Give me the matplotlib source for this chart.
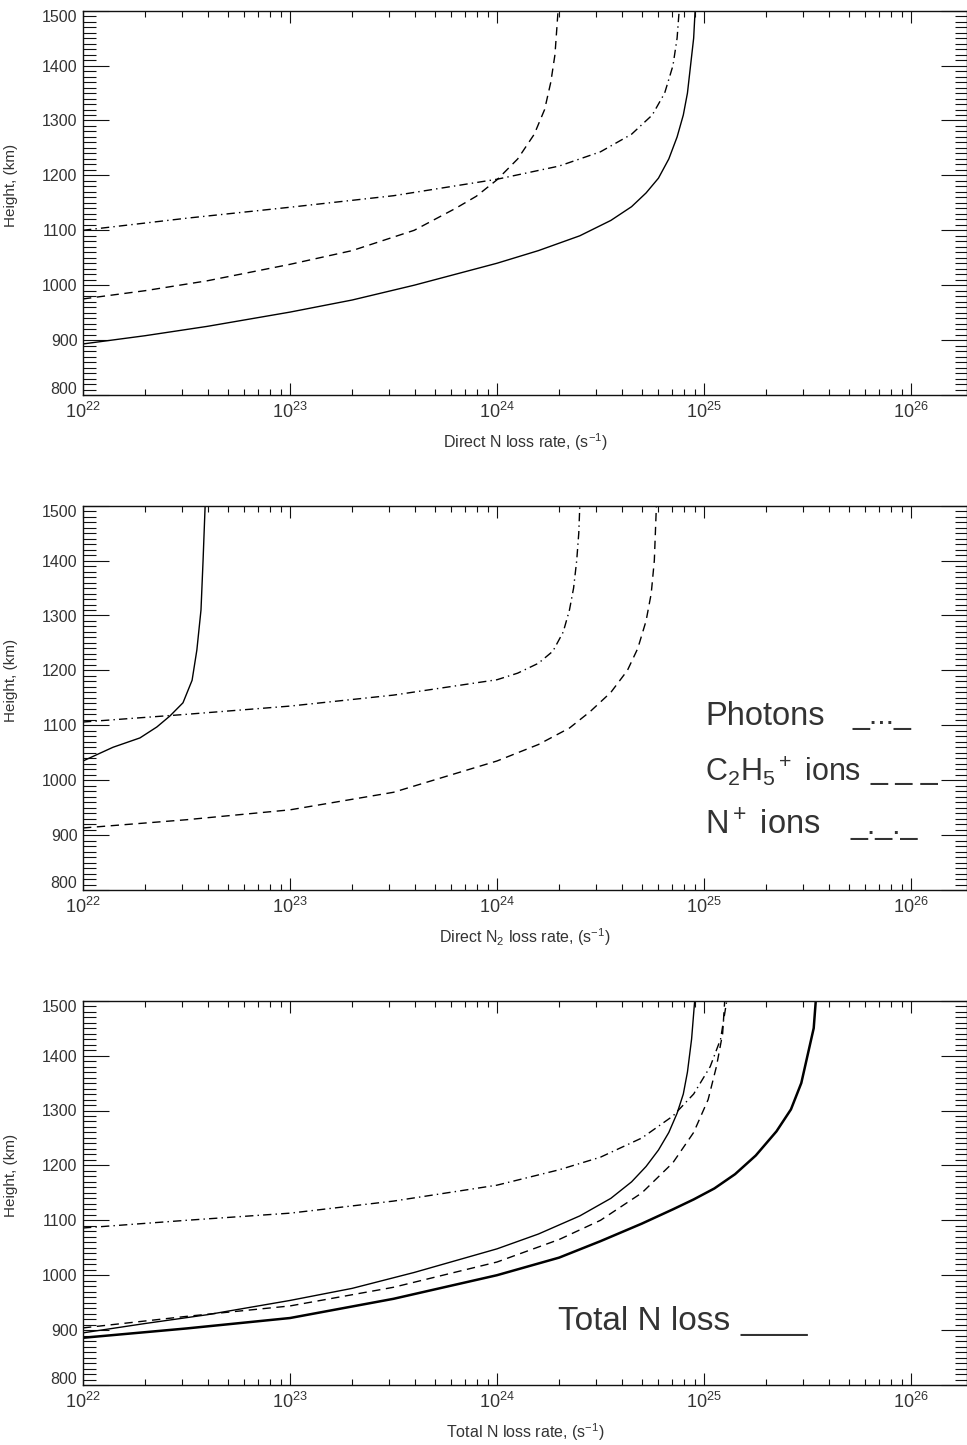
import matplotlib
matplotlib.use('Agg')
import matplotlib.pyplot as plt
import matplotlib.transforms as mtransforms
import numpy as np
from matplotlib.ticker import MultipleLocator, LogLocator, NullFormatter, FuncFormatter

plt.rcParams['font.family'] = ['Liberation Sans', 'DejaVu Sans']
plt.rcParams['mathtext.fontset'] = 'custom'
plt.rcParams['mathtext.rm'] = 'Liberation Sans'
plt.rcParams['mathtext.it'] = 'Liberation Sans:italic'
plt.rcParams['mathtext.bf'] = 'Liberation Sans:bold'

# ---------------- data (log10 of rate in s^-1, height in km) ----------------
# Panel 1: direct N loss
p1_solid_lograte = [22.0, 22.3, 22.6, 23.0, 23.3, 23.6, 24.0, 24.2, 24.4, 24.55, 24.65, 24.72, 24.78, 24.83, 24.87, 24.9, 24.92, 24.935, 24.95, 24.957]
p1_solid_height = [893, 908, 925, 951, 973, 1000, 1040, 1063, 1090, 1118, 1143, 1168, 1195, 1230, 1270, 1310, 1350, 1400, 1450, 1500]
p1_dashed_lograte = [22.0, 22.3, 22.6, 23.0, 23.3, 23.6, 23.8, 23.9, 24.0, 24.1, 24.18, 24.23, 24.26, 24.28, 24.295]
p1_dashed_height = [975, 990, 1008, 1038, 1063, 1100, 1140, 1162, 1192, 1230, 1275, 1320, 1370, 1420, 1500]
p1_dashdot_lograte = [22.0, 22.5, 23.0, 23.5, 24.0, 24.3, 24.5, 24.65, 24.75, 24.81, 24.85, 24.87, 24.88]
p1_dashdot_height = [1100, 1122, 1142, 1163, 1193, 1217, 1243, 1275, 1310, 1350, 1400, 1450, 1500]

# Panel 2: direct N2 loss
p2_solid_lograte = [22.0, 22.145, 22.275, 22.357, 22.42, 22.483, 22.527, 22.55, 22.57, 22.58, 22.59]
p2_solid_height = [1035, 1060, 1077, 1097, 1117, 1141, 1182, 1237, 1310, 1400, 1500]
p2_dashdot_lograte = [22.0, 22.5, 23.0, 23.5, 24.0, 24.1, 24.2, 24.27, 24.32, 24.35, 24.37, 24.385, 24.395, 24.40]
p2_dashdot_height = [1106, 1120, 1135, 1155, 1183, 1195, 1213, 1235, 1270, 1310, 1350, 1400, 1450, 1500]
p2_dashed_lograte = [22.0, 22.5, 23.0, 23.5, 24.0, 24.2, 24.35, 24.45, 24.55, 24.63, 24.68, 24.72, 24.745, 24.76, 24.77]
p2_dashed_height = [913, 928, 946, 978, 1035, 1065, 1095, 1125, 1160, 1200, 1240, 1290, 1340, 1400, 1500]

# Panel 3: total N loss
p3_solid_lograte = [22.0, 22.3, 22.6, 23.0, 23.3, 23.6, 24.0, 24.2, 24.4, 24.55, 24.65, 24.72, 24.78, 24.83, 24.87, 24.9, 24.92, 24.94, 24.955]
p3_solid_height = [895, 912, 928, 954, 976, 1005, 1048, 1075, 1108, 1140, 1170, 1198, 1228, 1260, 1295, 1330, 1370, 1430, 1500]
p3_dashed_lograte = [22.0, 22.5, 23.0, 23.5, 24.0, 24.3, 24.5, 24.7, 24.85, 24.95, 25.02, 25.06, 25.09, 25.1]
p3_dashed_height = [904, 925, 944, 978, 1024, 1065, 1100, 1150, 1205, 1260, 1320, 1380, 1440, 1500]
p3_dashdot_lograte = [22.0, 22.5, 23.0, 23.5, 24.0, 24.3, 24.5, 24.7, 24.85, 24.95, 25.03, 25.08, 25.11]
p3_dashdot_height = [1086, 1100, 1113, 1135, 1164, 1192, 1215, 1250, 1290, 1330, 1380, 1430, 1500]
p3_total_lograte = [22.0, 22.5, 23.0, 23.5, 24.0, 24.3, 24.5, 24.7, 24.85, 24.95, 25.05, 25.15, 25.25, 25.35, 25.42, 25.47, 25.5, 25.53, 25.54]
p3_total_height = [886, 903, 922, 957, 1000, 1032, 1062, 1094, 1120, 1138, 1158, 1184, 1218, 1262, 1302, 1350, 1400, 1450, 1500]

xlabels = ['Direct N loss rate, (s$^{-1}$)',
           'Direct N$_2$ loss rate, (s$^{-1}$)',
           'Total N loss rate, (s$^{-1}$)']
ylabel = 'Height, (km)'
legend_labels = [r'Photons', r'$\mathregular{C_2H_5{}^+\ ions}$', r'$\mathregular{N^+\ ions}$']
legend_sizes = [23.5, 22, 23.5]
legend_marks = ['_..._', '_ _ _', '_._._']
total_label = 'Total N loss'
total_mark = '____'

# ---------------- layout ----------------
W, H = 967, 1445
fig = plt.figure(figsize=(W / 100, H / 100), dpi=100)
TXT = '#333333'

DASHED = (0, (6, 4))
DASHDOT = (0, (6, 3, 1, 3))

def xfmt(v, pos):
    e = int(round(np.log10(v)))
    return r'$\mathregular{10^{%d}}$' % e

def yfmt(v, pos):
    if abs(v - 800) < 1 or abs(v - 1500) < 1:
        return ''
    return '%d' % v

tops = [10.7, 505.7, 1000.7]
ph = 384.3
axes = []
for i, top in enumerate(tops):
    ax = fig.add_axes([83 / W, 1 - (top + ph) / H, (W - 83) / W, ph / H])
    ax.set_xscale('log')
    ax.set_xlim(1e22, 10 ** 26.2705)
    ax.set_ylim(800, 1500)
    ax.yaxis.set_major_locator(MultipleLocator(100))
    ax.yaxis.set_minor_locator(MultipleLocator(10))
    ax.yaxis.set_major_formatter(FuncFormatter(yfmt))
    ax.xaxis.set_major_locator(LogLocator(base=10, numticks=10))
    ax.xaxis.set_major_formatter(FuncFormatter(xfmt))
    ax.xaxis.set_minor_locator(LogLocator(base=10, subs=np.arange(2, 10), numticks=20))
    ax.xaxis.set_minor_formatter(NullFormatter())
    ax.tick_params(axis='both', which='both', direction='in', top=True, right=True,
                   labelcolor=TXT, color='#111111', width=0.8)
    ax.tick_params(axis='y', which='major', length=19, labelsize=11.5, pad=4)
    ax.tick_params(axis='y', which='minor', length=9)
    ax.tick_params(axis='x', which='major', length=8.5, labelsize=13, pad=5)
    ax.tick_params(axis='x', which='minor', length=4)
    for s in ax.spines.values():
        s.set_linewidth(1.0)
        s.set_color('#111111')
    ax.set_xlabel(xlabels[i], fontsize=11.5, color=TXT, labelpad=7)
    ax.set_ylabel(ylabel, fontsize=11, color=TXT)
    ax.yaxis.set_label_coords(-0.0735, 0.545)
    # end labels nudged inward, as in the original
    base = ax.get_yaxis_transform()
    ax.text(-0.0068, 1500, '1500', fontsize=11.5, color=TXT, ha='right', va='center',
            transform=base + mtransforms.ScaledTranslation(0, -0.07, fig.dpi_scale_trans))
    ax.text(-0.0068, 800, '800', fontsize=11.5, color=TXT, ha='right', va='center',
            transform=base + mtransforms.ScaledTranslation(0, 0.06, fig.dpi_scale_trans))
    axes.append(ax)

def pw(lr):
    return 10 ** np.asarray(lr)

ax1, ax2, ax3 = axes
ax1.plot(pw(p1_solid_lograte), p1_solid_height, color='k', lw=1.0)
ax1.plot(pw(p1_dashed_lograte), p1_dashed_height, color='k', lw=1.0, linestyle=DASHED)
ax1.plot(pw(p1_dashdot_lograte), p1_dashdot_height, color='k', lw=1.0, linestyle=DASHDOT)

ax2.plot(pw(p2_solid_lograte), p2_solid_height, color='k', lw=1.0)
ax2.plot(pw(p2_dashdot_lograte), p2_dashdot_height, color='k', lw=1.0, linestyle=DASHDOT)
ax2.plot(pw(p2_dashed_lograte), p2_dashed_height, color='k', lw=1.0, linestyle=DASHED)

ax3.plot(pw(p3_solid_lograte), p3_solid_height, color='k', lw=1.0)
ax3.plot(pw(p3_dashed_lograte), p3_dashed_height, color='k', lw=1.0, linestyle=DASHED)
ax3.plot(pw(p3_dashdot_lograte), p3_dashdot_height, color='k', lw=1.0, linestyle=DASHDOT)
ax3.plot(pw(p3_total_lograte), p3_total_height, color='k', lw=1.8)

# legend-like texts (figure pixel positions)
leg_y = [716, 771, 826]
mark_x = [852, 870, 850]
for lab, fs, mk, y, mx in zip(legend_labels, legend_sizes, legend_marks, leg_y, mark_x):
    fig.text(705 / W, 1 - y / H, lab, fontsize=fs, color=TXT, ha='left', va='center')
    fig.text(mx / W, 1 - y / H, mk, fontsize=22, color=TXT, ha='left', va='center')
fig.text(558 / W, 1 - 1322 / H, total_label, fontsize=24, color=TXT, ha='left', va='center')
fig.text(740 / W, 1 - 1322 / H, total_mark, fontsize=22, color=TXT, ha='left', va='center')

fig.savefig('out.png', dpi=100)
